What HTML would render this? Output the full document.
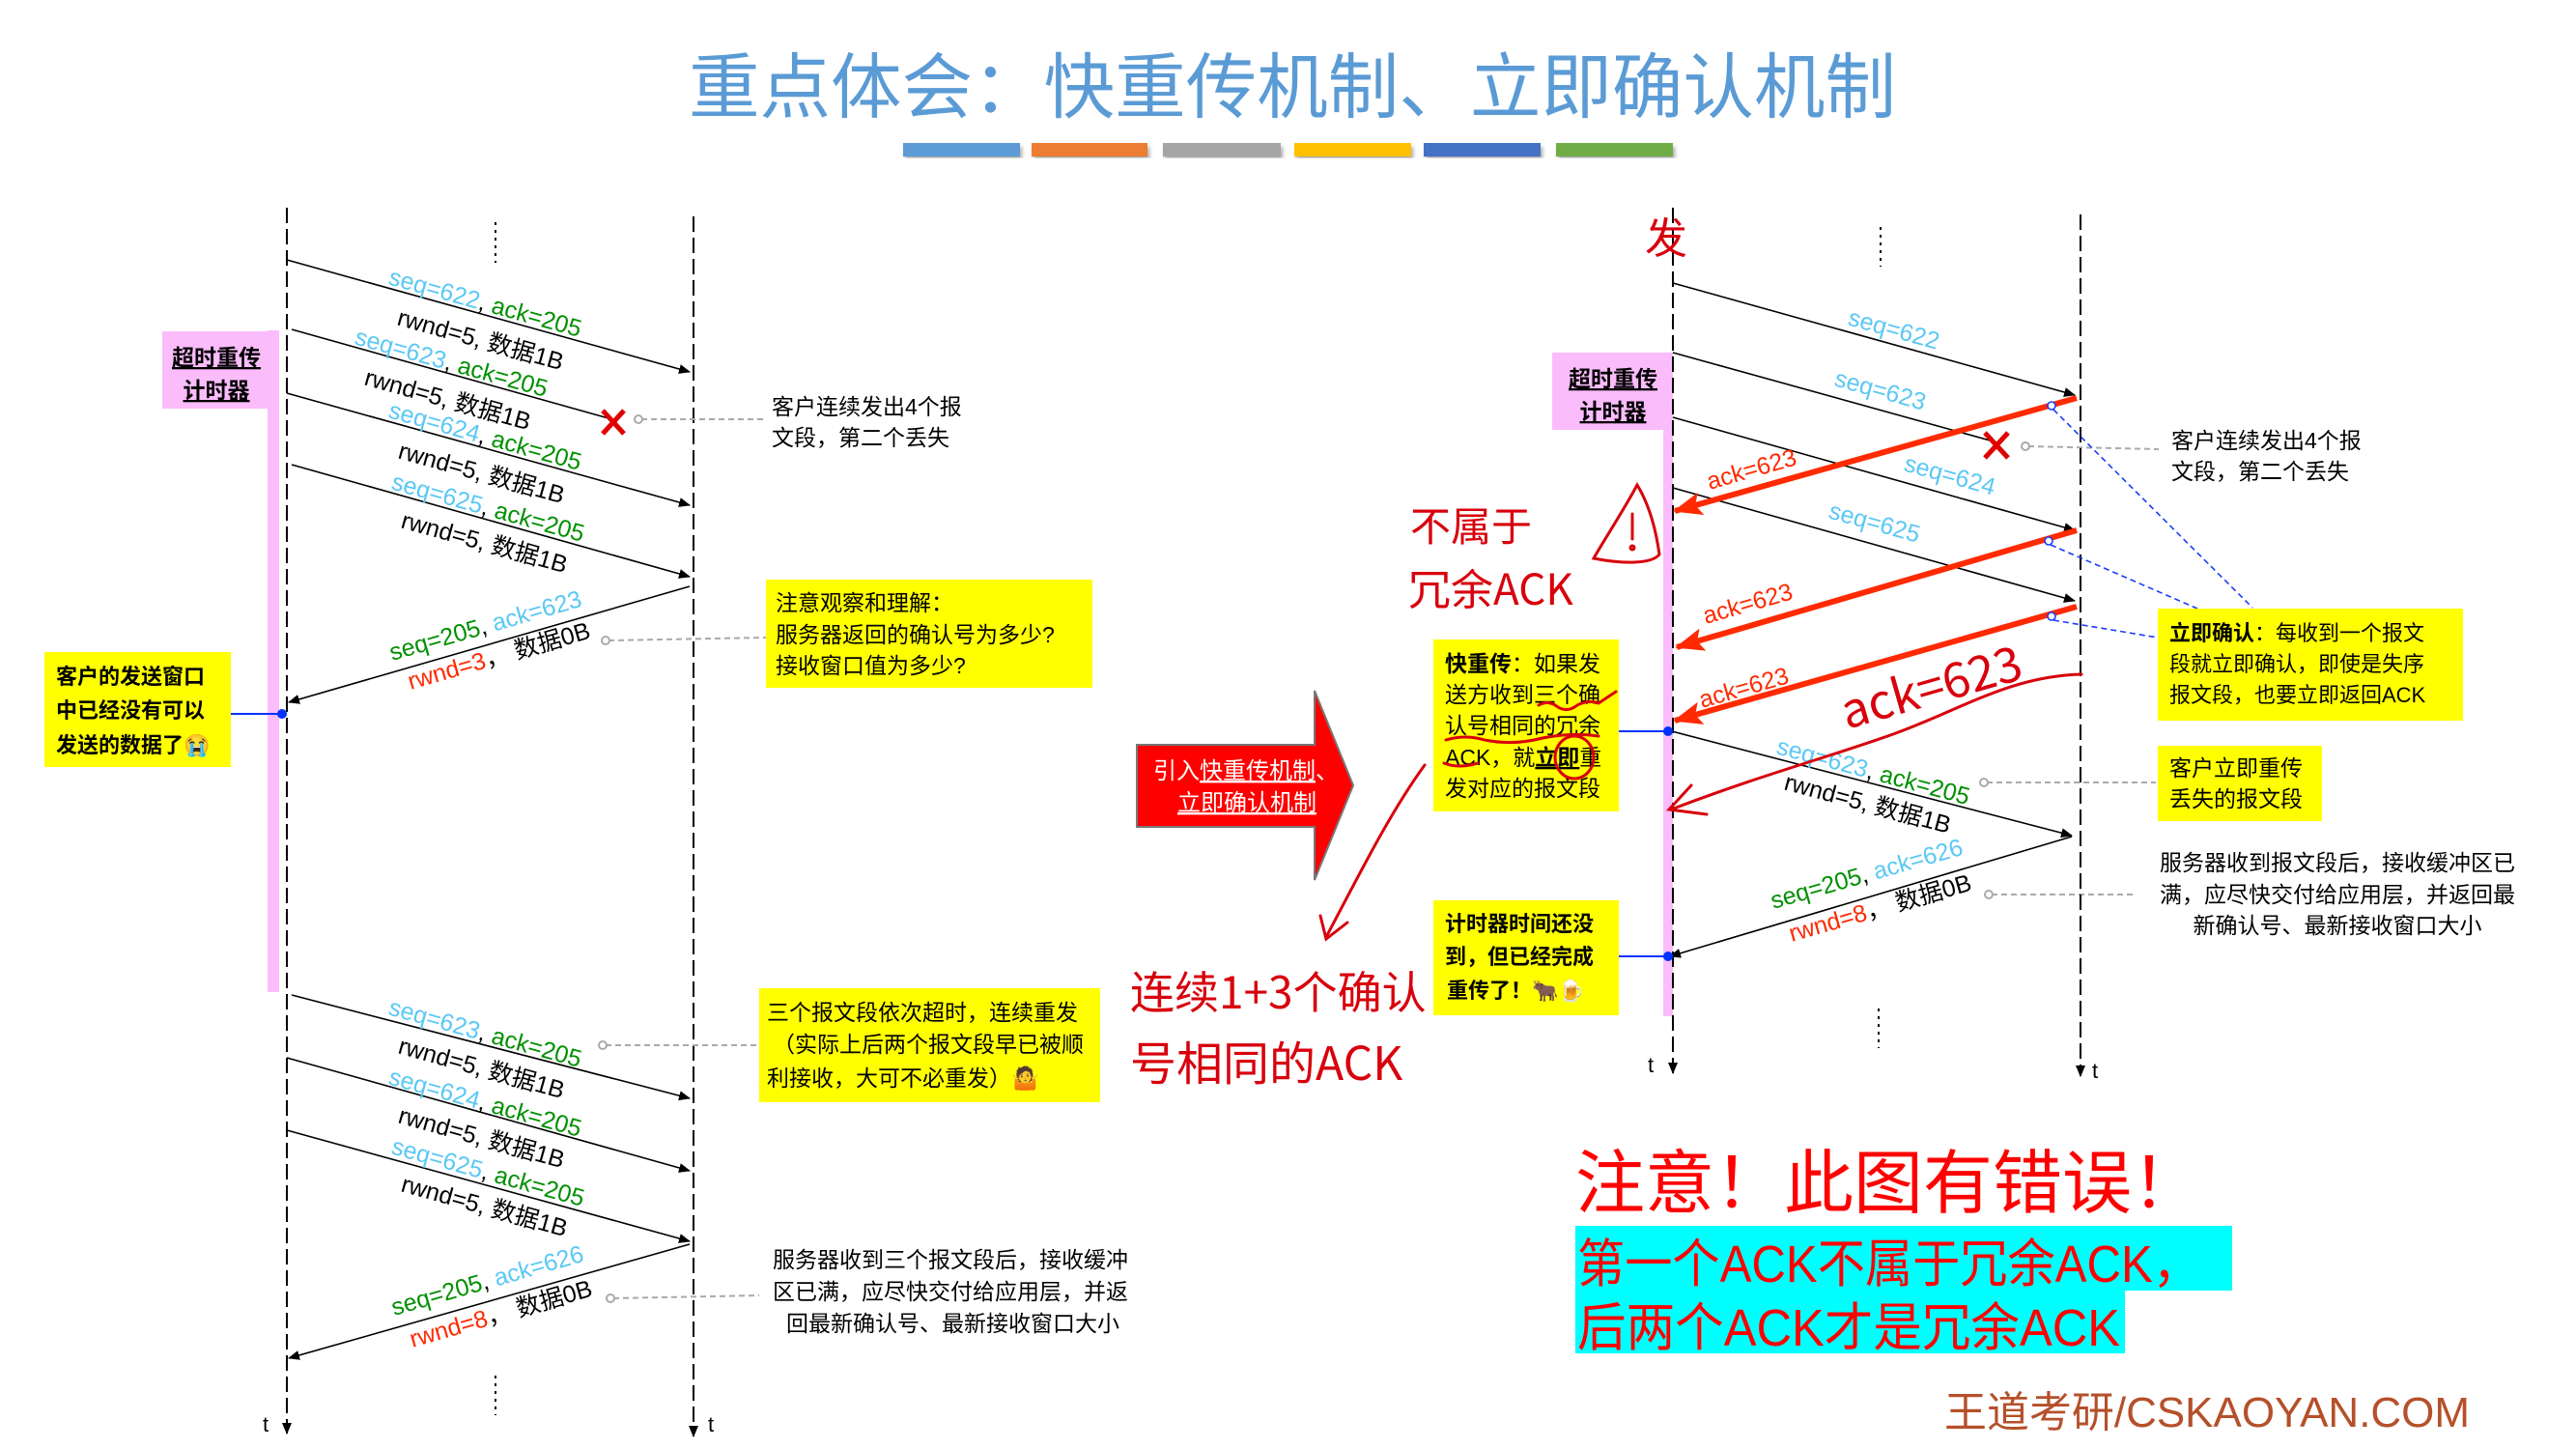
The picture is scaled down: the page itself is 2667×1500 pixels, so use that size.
<!DOCTYPE html>
<html><head><meta charset="utf-8"><style>
html,body{margin:0;padding:0;background:#fff;}
svg{display:block;}
text{font-family:"Liberation Sans","Noto Sans CJK SC",sans-serif;}
.cn{font-family:"Liberation Sans","Noto Sans CJK SC",sans-serif;}
.lb{font-size:25px;}
.hw{font-family:"Noto Sans CJK SC","WenQuanYi Zen Hei",sans-serif;fill:#d8000c;}
</style></head><body>
<svg width="2667" height="1500" viewBox="0 0 2667 1500" xmlns="http://www.w3.org/2000/svg">
<defs>
<marker id="ah" markerWidth="12" markerHeight="10" refX="11" refY="5" orient="auto" markerUnits="userSpaceOnUse"><path d="M0,0 L12,5 L0,10 z" fill="#000"/></marker>
<marker id="rh" markerWidth="30" markerHeight="24" refX="28" refY="12" orient="auto" markerUnits="userSpaceOnUse"><path d="M0,0 L30,12 L0,24 L6,12 z" fill="#ff2a00"/></marker>
<filter id="sh"><feDropShadow dx="2" dy="4" stdDeviation="2" flood-opacity="0.35"/></filter>
</defs>

<!-- Title -->
<text x="1338" y="116" text-anchor="middle" font-size="74" fill="#5b9bd5" class="cn" textLength="1250" lengthAdjust="spacingAndGlyphs">重点体会：快重传机制、立即确认机制</text>
<g filter="url(#sh)">
<rect x="935" y="148" width="121" height="14" fill="#5b9bd5"/>
<rect x="1068" y="148" width="120" height="14" fill="#ed7d31"/>
<rect x="1204" y="148" width="122" height="14" fill="#a5a5a5"/>
<rect x="1340" y="148" width="121" height="14" fill="#ffc000"/>
<rect x="1474" y="148" width="121" height="14" fill="#4472c4"/>
<rect x="1611" y="148" width="121" height="14" fill="#70ad47"/>
</g>

<!-- ============ LEFT DIAGRAM ============ -->
<rect x="277" y="342" width="12" height="685" fill="#fbbcfb"/>
<line x1="297" y1="215" x2="297" y2="1484" stroke="#000" stroke-width="2" stroke-dasharray="16 6" marker-end="url(#ah)"/>
<line x1="718" y1="224" x2="718" y2="1487" stroke="#000" stroke-width="2" stroke-dasharray="16 6" marker-end="url(#ah)"/>
<text x="272" y="1482" font-size="22">t</text>
<text x="733" y="1482" font-size="22">t</text>
<line x1="513" y1="230" x2="513" y2="272" stroke="#000" stroke-width="2" stroke-dasharray="3 5"/>
<line x1="513" y1="1424" x2="513" y2="1465" stroke="#000" stroke-width="2" stroke-dasharray="3 5"/>

<g stroke="#000" stroke-width="1.6" fill="none">
<line x1="297" y1="269" x2="714" y2="385" marker-end="url(#ah)"/>
<line x1="302" y1="341" x2="630" y2="433"/>
<line x1="297" y1="407" x2="714" y2="523" marker-end="url(#ah)"/>
<line x1="302" y1="481" x2="714" y2="597" marker-end="url(#ah)"/>
<line x1="714" y1="607" x2="299" y2="727" marker-end="url(#ah)"/>
<line x1="302" y1="1030" x2="714" y2="1137" marker-end="url(#ah)"/>
<line x1="297" y1="1095" x2="714" y2="1212" marker-end="url(#ah)"/>
<line x1="297" y1="1170" x2="714" y2="1285" marker-end="url(#ah)"/>
<line x1="714" y1="1288" x2="299" y2="1406" marker-end="url(#ah)"/>
</g>
<g stroke="#e00000" stroke-width="5"><line x1="624" y1="425" x2="646" y2="449"/><line x1="646" y1="425" x2="624" y2="449"/></g>

<g class="lb">
<text transform="translate(401,294) rotate(15.5)"><tspan fill="#5bc8f5">seq=622</tspan><tspan fill="#000">, </tspan><tspan fill="#009000">ack=205</tspan></text>
<text transform="translate(410,336) rotate(15.5)" fill="#000">rwnd=5, 数据1B</text>
<text transform="translate(366,356) rotate(15.5)"><tspan fill="#5bc8f5">seq=623</tspan><tspan fill="#000">, </tspan><tspan fill="#009000">ack=205</tspan></text>
<text transform="translate(376,398) rotate(15.5)" fill="#000">rwnd=5, 数据1B</text>
<text transform="translate(401,432) rotate(15.5)"><tspan fill="#5bc8f5">seq=624</tspan><tspan fill="#000">, </tspan><tspan fill="#009000">ack=205</tspan></text>
<text transform="translate(411,474) rotate(15.5)" fill="#000">rwnd=5, 数据1B</text>
<text transform="translate(404,506) rotate(15.5)"><tspan fill="#5bc8f5">seq=625</tspan><tspan fill="#000">, </tspan><tspan fill="#009000">ack=205</tspan></text>
<text transform="translate(414,546) rotate(15.5)" fill="#000">rwnd=5, 数据1B</text>
<text transform="translate(406,684) rotate(-16)"><tspan fill="#009000">seq=205</tspan><tspan fill="#000">, </tspan><tspan fill="#5bc8f5">ack=623</tspan></text>
<text transform="translate(425,714) rotate(-16)"><tspan fill="#ff2a00">rwnd=3</tspan><tspan fill="#000">，  数据0B</tspan></text>

<text transform="translate(401,1050) rotate(15.5)"><tspan fill="#5bc8f5">seq=623</tspan><tspan fill="#000">, </tspan><tspan fill="#009000">ack=205</tspan></text>
<text transform="translate(411,1090) rotate(15.5)" fill="#000">rwnd=5, 数据1B</text>
<text transform="translate(401,1122) rotate(15.5)"><tspan fill="#5bc8f5">seq=624</tspan><tspan fill="#000">, </tspan><tspan fill="#009000">ack=205</tspan></text>
<text transform="translate(411,1162) rotate(15.5)" fill="#000">rwnd=5, 数据1B</text>
<text transform="translate(404,1194) rotate(15.5)"><tspan fill="#5bc8f5">seq=625</tspan><tspan fill="#000">, </tspan><tspan fill="#009000">ack=205</tspan></text>
<text transform="translate(414,1233) rotate(15.5)" fill="#000">rwnd=5, 数据1B</text>
<text transform="translate(408,1362) rotate(-16)"><tspan fill="#009000">seq=205</tspan><tspan fill="#000">, </tspan><tspan fill="#5bc8f5">ack=626</tspan></text>
<text transform="translate(427,1395) rotate(-16)"><tspan fill="#ff2a00">rwnd=8</tspan><tspan fill="#000">，  数据0B</tspan></text>
</g>

<rect x="168" y="343" width="111" height="80" fill="#fbbcfb"/>
<text x="224" y="378" text-anchor="middle" font-size="23" font-weight="bold" text-decoration="underline">超时重传</text>
<text x="224" y="412" text-anchor="middle" font-size="23" font-weight="bold" text-decoration="underline">计时器</text>

<rect x="46" y="675" width="193" height="119" fill="#ffff00"/>
<g font-size="22" font-weight="bold"><text x="58" y="708">客户的发送窗口</text><text x="58" y="743">中已经没有可以</text><text x="58" y="779">发送的数据了😭</text></g>
<line x1="239" y1="739" x2="291" y2="739" stroke="#0033ff" stroke-width="2"/><circle cx="292" cy="739" r="5" fill="#0033ff"/>

<g stroke="#aaa" stroke-width="2" stroke-dasharray="6 4" fill="none">
<line x1="664" y1="434" x2="790" y2="434"/><line x1="630" y1="663" x2="793" y2="660"/>
<line x1="627" y1="1082" x2="786" y2="1082"/><line x1="635" y1="1344" x2="786" y2="1341"/>
<line x1="2100" y1="462" x2="2235" y2="465"/><line x1="2057" y1="810" x2="2232" y2="810"/><line x1="2062" y1="926" x2="2210" y2="926"/>
</g>
<g stroke="#aaa" stroke-width="2" fill="#fff"><circle cx="661" cy="434" r="4"/><circle cx="627" cy="663" r="4"/><circle cx="624" cy="1082" r="4"/><circle cx="632" cy="1344" r="4"/><circle cx="2097" cy="462" r="4"/><circle cx="2054" cy="810" r="4"/><circle cx="2059" cy="926" r="4"/></g>

<g font-size="23"><text x="799" y="429">客户连续发出4个报</text><text x="799" y="461">文段，第二个丢失</text></g>
<rect x="793" y="600" width="338" height="112" fill="#ffff00"/>
<g font-size="23"><text x="803" y="632">注意观察和理解：</text><text x="803" y="665">服务器返回的确认号为多少?</text><text x="803" y="697">接收窗口值为多少?</text></g>
<rect x="786" y="1023" width="353" height="118" fill="#ffff00"/>
<g font-size="23"><text x="794" y="1056">三个报文段依次超时，连续重发</text><text x="800" y="1089">（实际上后两个报文段早已被顺</text><text x="794" y="1124">利接收，大可不必重发）🤷</text></g>
<g font-size="23"><text x="800" y="1312">服务器收到三个报文段后，接收缓冲</text><text x="800" y="1345">区已满，应尽快交付给应用层，并返</text><text x="814" y="1378">回最新确认号、最新接收窗口大小</text></g>

<path d="M1177,771 L1361,771 L1361,715 L1401,813 L1361,911 L1361,856 L1177,856 Z" fill="#ff0000" stroke="#777" stroke-width="2"/>
<g font-size="24" fill="#fff"><text x="1194" y="806">引入<tspan text-decoration="underline">快重传机制</tspan>、</text><text x="1219" y="839" text-decoration="underline">立即确认机制</text></g>

<!-- ============ RIGHT DIAGRAM ============ -->
<rect x="1722" y="445" width="10" height="607" fill="#fbbcfb"/>
<rect x="1607" y="365" width="125" height="80" fill="#fbbcfb"/>
<text x="1670" y="400" text-anchor="middle" font-size="23" font-weight="bold" text-decoration="underline">超时重传</text>
<text x="1670" y="434" text-anchor="middle" font-size="23" font-weight="bold" text-decoration="underline">计时器</text>
<line x1="1732" y1="215" x2="1732" y2="1111" stroke="#000" stroke-width="2" stroke-dasharray="16 6" marker-end="url(#ah)"/>
<line x1="2154" y1="222" x2="2154" y2="1114" stroke="#000" stroke-width="2" stroke-dasharray="16 6" marker-end="url(#ah)"/>
<text x="1706" y="1110" font-size="22">t</text>
<text x="2166" y="1116" font-size="22">t</text>
<line x1="1947" y1="235" x2="1947" y2="276" stroke="#000" stroke-width="2" stroke-dasharray="3 5"/>
<line x1="1945" y1="1044" x2="1945" y2="1085" stroke="#000" stroke-width="2" stroke-dasharray="3 5"/>

<g stroke="#000" stroke-width="1.6" fill="none">
<line x1="1732" y1="293" x2="2148" y2="409" marker-end="url(#ah)"/>
<line x1="1732" y1="365" x2="2064" y2="457"/>
<line x1="1732" y1="432" x2="2148" y2="549" marker-end="url(#ah)"/>
<line x1="1732" y1="505" x2="2148" y2="622" marker-end="url(#ah)"/>
<line x1="1727" y1="756" x2="2145" y2="865" marker-end="url(#ah)"/>
<line x1="2145" y1="866" x2="1729" y2="990" marker-end="url(#ah)"/>
</g>
<g stroke="#e00000" stroke-width="5"><line x1="2055" y1="448" x2="2079" y2="474"/><line x1="2079" y1="448" x2="2055" y2="474"/></g>

<g stroke="#ff2a00" stroke-width="6" fill="none">
<line x1="2150" y1="412" x2="1734" y2="529" marker-end="url(#rh)"/>
<line x1="2150" y1="549" x2="1736" y2="670" marker-end="url(#rh)"/>
<line x1="2150" y1="628" x2="1734" y2="746" marker-end="url(#rh)"/>
</g>
<g class="lb">
<text transform="translate(1912,336) rotate(15.5)" fill="#5bc8f5">seq=622</text>
<text transform="translate(1898,399) rotate(15.5)" fill="#5bc8f5">seq=623</text>
<text transform="translate(1970,487) rotate(15.5)" fill="#5bc8f5">seq=624</text>
<text transform="translate(1892,536) rotate(15.5)" fill="#5bc8f5">seq=625</text>
<text transform="translate(1770,507) rotate(-16)" fill="#ff2a00">ack=623</text>
<text transform="translate(1766,646) rotate(-16)" fill="#ff2a00">ack=623</text>
<text transform="translate(1762,733) rotate(-16)" fill="#ff2a00">ack=623</text>
<text transform="translate(1838,780) rotate(15)"><tspan fill="#5bc8f5">seq=623</tspan><tspan fill="#000">, </tspan><tspan fill="#009000">ack=205</tspan></text>
<text transform="translate(1846,817) rotate(15)" fill="#000">rwnd=5, 数据1B</text>
<text transform="translate(1836,941) rotate(-16)"><tspan fill="#009000">seq=205</tspan><tspan fill="#000">, </tspan><tspan fill="#5bc8f5">ack=626</tspan></text>
<text transform="translate(1855,975) rotate(-16)"><tspan fill="#ff2a00">rwnd=8</tspan><tspan fill="#000">，  数据0B</tspan></text>
</g>

<g stroke="#1a3cff" stroke-width="1.6" stroke-dasharray="6 4" fill="none">
<line x1="2126" y1="424" x2="2332" y2="629"/><line x1="2123" y1="564" x2="2275" y2="630"/><line x1="2126" y1="642" x2="2234" y2="660"/>
</g>
<g stroke="#1a3cff" stroke-width="1.6" fill="#fff"><circle cx="2124" cy="420" r="4"/><circle cx="2121" cy="560" r="4"/><circle cx="2124" cy="638" r="4"/></g>

<g font-size="23"><text x="2248" y="464">客户连续发出4个报</text><text x="2248" y="496">文段，第二个丢失</text></g>
<rect x="2234" y="630" width="316" height="116" fill="#ffff00"/>
<g font-size="22"><text x="2246" y="663"><tspan font-weight="bold">立即确认</tspan>：每收到一个报文</text><text x="2246" y="695">段就立即确认，即使是失序</text><text x="2246" y="727">报文段，也要立即返回ACK</text></g>
<rect x="2234" y="772" width="170" height="78" fill="#ffff00"/>
<g font-size="23"><text x="2246" y="803">客户立即重传</text><text x="2246" y="835">丢失的报文段</text></g>
<g font-size="23" text-anchor="middle"><text x="2420" y="901">服务器收到报文段后，接收缓冲区已</text><text x="2420" y="934">满，应尽快交付给应用层，并返回最</text><text x="2420" y="966">新确认号、最新接收窗口大小</text></g>

<rect x="1484" y="662" width="192" height="178" fill="#ffff00"/>
<g font-size="23"><text x="1496" y="695"><tspan font-weight="bold">快重传</tspan>：如果发</text><text x="1496" y="727">送方收到三个确</text><text x="1496" y="759">认号相同的冗余</text><text x="1496" y="792">ACK，就<tspan font-weight="bold" text-decoration="underline">立即</tspan>重</text><text x="1496" y="824">发对应的报文段</text></g>
<rect x="1484" y="932" width="192" height="119" fill="#ffff00"/>
<g font-size="22" font-weight="bold"><text x="1496" y="964">计时器时间还没</text><text x="1496" y="998">到，但已经完成</text><text x="1498" y="1033">重传了！🐂🍺</text></g>
<line x1="1676" y1="757" x2="1727" y2="757" stroke="#0033ff" stroke-width="2"/><circle cx="1727" cy="757" r="5" fill="#0033ff"/>
<line x1="1676" y1="990" x2="1727" y2="990" stroke="#0033ff" stroke-width="2"/><circle cx="1727" cy="990" r="5" fill="#0033ff"/>

<g fill="none" stroke="#d8000c" stroke-width="3" stroke-linecap="round">
<path d="M1593,730 q10,-6 20,2 q10,6 20,-2 q12,-6 22,-2 l18,-12"/>
<path d="M1497,766 q20,-6 40,0 q30,6 60,-2 q30,-6 58,-2"/>
<path d="M1495,790 q15,6 35,0"/>
<ellipse cx="1630" cy="784" rx="20" ry="22"/>
<path d="M2155,698 C2080,700 2030,735 1960,760 C1890,785 1830,800 1730,838"/>
<path d="M1751,813 L1728,838 L1767,843"/>
<path d="M1475,792 C1440,840 1410,900 1373,970"/>
<path d="M1367,948 L1373,972 L1395,955"/>
<path d="M1695,502 C1680,530 1660,560 1650,578 C1680,584 1710,584 1718,574 C1714,545 1706,520 1695,502 Z"/>
<path d="M1690,532 L1690,558"/><circle cx="1690" cy="567" r="2"/>
</g>
<text x="1703" y="262" font-size="44" class="hw">发</text>
<text x="1460" y="560" font-size="42" class="hw">不属于</text>
<text x="1458" y="626" font-size="44" class="hw">冗余ACK</text>
<text x="1170" y="1044" font-size="46" class="hw">连续1+3个确认</text>
<text x="1170" y="1118" font-size="48" class="hw">号相同的ACK</text>
<text transform="translate(1912,755) rotate(-16)" font-size="50" class="hw">ack=623</text>

<text x="1631" y="1250" font-size="72" fill="#ff0000">注意！此图有错误！</text>
<rect x="1631" y="1269" width="680" height="67" fill="#00ffff"/>
<rect x="1631" y="1336" width="569" height="65" fill="#00ffff"/>
<text x="1633" y="1327" font-size="54" fill="#ff0000" textLength="645" lengthAdjust="spacingAndGlyphs">第一个ACK不属于冗余ACK，</text>
<text x="1633" y="1393" font-size="54" fill="#ff0000" textLength="562" lengthAdjust="spacingAndGlyphs">后两个ACK才是冗余ACK</text>
<text x="2013" y="1477" font-size="44" fill="#b5502a" textLength="544" lengthAdjust="spacingAndGlyphs">王道考研/CSKAOYAN.COM</text>
</svg>
</body></html>
